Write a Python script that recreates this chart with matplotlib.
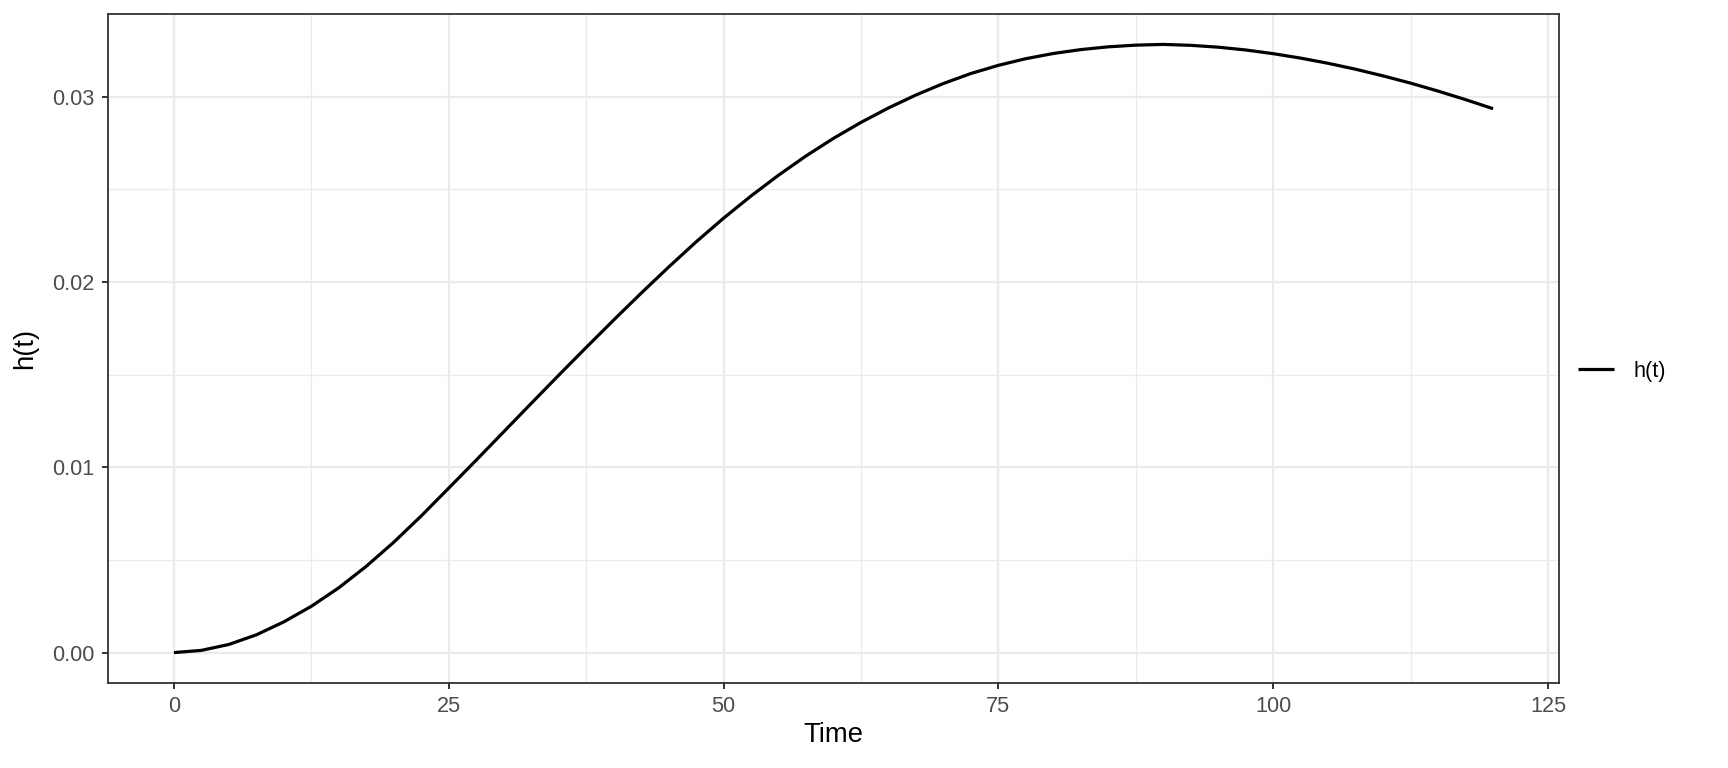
import matplotlib.pyplot as plt
from matplotlib.ticker import MultipleLocator

plt.rcParams['font.family'] = ['Liberation Sans', 'DejaVu Sans']

# hazard curve, every 2.5 time units
time = [0, 2.5, 5, 7.5, 10, 12.5, 15, 17.5, 20, 22.5, 25, 27.5, 30, 32.5, 35,
        37.5, 40, 42.5, 45, 47.5, 50, 52.5, 55, 57.5, 60, 62.5, 65, 67.5, 70,
        72.5, 75, 77.5, 80, 82.5, 85, 87.5, 90, 92.5, 95, 97.5, 100, 102.5,
        105, 107.5, 110, 112.5, 115, 117.5, 120]
hazard = [0.0, 0.00012, 0.00044, 0.00096, 0.00166, 0.00250, 0.00350, 0.00466,
          0.00596, 0.00738, 0.00888, 0.01039, 0.01192, 0.01345, 0.01497,
          0.01647, 0.01795, 0.01940, 0.02081, 0.02217, 0.02345, 0.02465,
          0.02577, 0.02681, 0.02776, 0.02862, 0.02940, 0.03010, 0.03072,
          0.03126, 0.03170, 0.03206, 0.03234, 0.03255, 0.03270, 0.03279,
          0.03283, 0.03278, 0.03268, 0.03253, 0.03233, 0.03209, 0.03181,
          0.03149, 0.03113, 0.03074, 0.03031, 0.02985, 0.02936]
series_label = 'h(t)'

# ggplot theme_bw sizes, scaled up to this figure
small = 15.6
big = 19.8

fig = plt.figure(figsize=(17.28, 7.68), dpi=100)
ax = fig.add_axes([108 / 1728, 1 - 683 / 768, (1559 - 108) / 1728, (683 - 14) / 768])

line, = ax.plot(time, hazard, color='black', lw=2.3, solid_capstyle='butt',
                solid_joinstyle='round', zorder=3)

xr = max(time) - min(time)
yr = max(hazard) - min(hazard)
ax.set_xlim(min(time) - 0.05 * xr, max(time) + 0.05 * xr)
ax.set_ylim(min(hazard) - 0.05 * yr, max(hazard) + 0.05 * yr)

ax.xaxis.set_minor_locator(MultipleLocator(12.5))
ax.yaxis.set_minor_locator(MultipleLocator(0.005))
ax.set_yticks([0, 0.01, 0.02, 0.03])
ax.set_yticklabels(['0.00', '0.01', '0.02', '0.03'])
ax.set_xticks([0, 25, 50, 75, 100, 125])
ax.set_xticklabels(['0', '25', '50', '75', '100', '125'])

ax.grid(which='major', color='#EBEBEB', lw=1.6)
ax.grid(which='minor', color='#EBEBEB', lw=0.9)
ax.set_axisbelow(True)

for s in ax.spines.values():
    s.set_color('#333333')
    s.set_linewidth(1.3)

ax.tick_params(which='major', length=4.5, width=1.4, color='#333333',
               labelsize=small, labelcolor='#4D4D4D', pad=4.5)
ax.tick_params(axis='y', which='major', pad=5)
ax.tick_params(which='minor', length=0)

ax.set_xlabel('Time', fontsize=big, color='black', labelpad=4)
ax.set_ylabel('h(t)', fontsize=big, color='black', labelpad=10)

fig.legend([line], [series_label], loc='center left',
           bbox_to_anchor=(1578 / 1728, 1 - 371 / 768), frameon=False,
           fontsize=small, handlelength=1.65, handletextpad=0.9,
           borderpad=0, borderaxespad=0)

fig.savefig('out.png', dpi=100, facecolor='white')
